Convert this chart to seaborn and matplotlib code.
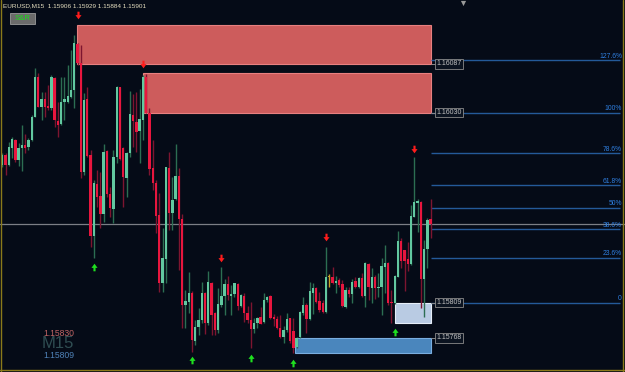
import numpy as np
import pandas as pd
import seaborn as sns
import matplotlib
matplotlib.use("Agg")
import matplotlib.pyplot as plt
from matplotlib.path import Path
from matplotlib.patches import Rectangle

# ---------------- data (EURUSD M15, prices in 1e-5 points) ----------------
opens = [115969,115981,115969,115989,115998,115975,115989,115992,115990,115998,
         116025,116071,116037,116046,116038,116035,116070,116020,116017,116042,
         116042,116048,116056,116110,116088,115961,116046,115981,115886,115947,
         115933,115912,115985,115935,115918,115978,116060,115989,115954,115983,
         116027,116019,116009,116021,116071,116030,115966,115948,115911,115832,
         115860,115966,115913,115929,115956,115906,115806,115810,115820,115764,
         115781,115789,115820,115785,115832,115797,115777,115806,115817,115831,
         115817,115819,115831,115805,115817,115797,115789,115778,115785,115792,
         115786,115812,115817,115792,115790,115779,115769,115777,115791,115776,
         115757,115769,115797,115806,115790,115820,115826,115811,115808,115798,
         115839,115839,115832,115835,115831,115804,115824,115819,115834,115827,
         115838,115817,115854,115826,115839,115826,115827,115850,115855,115810,
         115808,115839,115881,115870,115860,115854,115909,115925,115926,115836,
         115871,115906]
highs = [115983,115983,115996,116002,115999,115995,116016,116005,116000,116027,
         116082,116076,116054,116054,116062,116074,116071,116042,116071,116071,
         116085,116103,116120,116111,116109,116053,116060,115986,115952,115963,
         115961,115993,115986,115943,115986,116061,116060,115990,115984,116055,
         116052,116054,116058,116074,116075,116035,115998,115952,115936,115896,
         115967,115984,115955,115993,115966,115912,115824,115845,115822,115789,
         115803,115833,115821,115846,115833,115798,115826,115850,115836,115840,
         115829,115832,115832,115819,115820,115805,115810,115791,115792,115804,
         115820,115817,115818,115796,115793,115795,115782,115797,115791,115791,
         115769,115799,115815,115808,115833,115832,115827,115821,115812,115874,
         115842,115850,115840,115838,115835,115827,115827,115836,115839,115839,
         115843,115856,115855,115849,115841,115843,115861,115876,115856,115824,
         115841,115892,115884,115870,115879,115922,115978,115929,115927,115882,
         115907,115929]
lows = [115967,115957,115968,115977,115973,115968,115962,115983,115986,115997,
        116025,116037,116021,116025,116033,116033,116013,116002,116016,116021,
        116041,116047,116035,116085,115954,115957,115978,115874,115861,115920,
        115896,115903,115932,115909,115902,115971,115975,115920,115932,115978,
        115990,115984,115971,115998,116030,115957,115940,115890,115821,115821,
        115832,115893,115893,115928,115847,115779,115779,115797,115751,115760,
        115771,115785,115772,115783,115771,115771,115774,115804,115795,115812,
        115795,115815,115800,115804,115786,115785,115756,115774,115779,115784,
        115785,115810,115790,115782,115778,115768,115762,115775,115762,115750,
        115756,115768,115795,115774,115789,115796,115808,115798,115797,115797,
        115827,115831,115820,115827,115804,115803,115815,115808,115826,115826,
        115815,115804,115812,115808,115813,115815,115795,115820,115806,115785,
        115807,115839,115849,115822,115846,115853,115909,115891,115803,115792,
        115849,115884]
closes = [115981,115969,115990,115999,115975,115989,115992,115989,115998,116025,
          116071,116037,116046,116037,116035,116071,116021,116016,116042,116046,
          116049,116056,116111,116088,115961,116045,115980,115886,115948,115932,
          115912,115984,115935,115919,115978,116060,115976,115955,115983,116028,
          116020,116007,116023,116071,116030,115964,115948,115910,115832,115861,
          115967,115913,115928,115956,115906,115806,115811,115820,115765,115781,
          115789,115820,115785,115833,115795,115777,115807,115817,115831,115818,
          115819,115832,115805,115818,115797,115789,115778,115785,115791,115784,
          115812,115815,115791,115790,115779,115769,115777,115790,115764,115756,
          115768,115798,115806,115790,115822,115826,115810,115800,115798,115839,
          115839,115832,115834,115829,115805,115824,115819,115833,115827,115838,
          115817,115855,115827,115839,115826,115827,115852,115855,115808,115808,
          115840,115881,115857,115857,115854,115910,115926,115927,115836,115871,
          115905,115901]

# fractal arrows: candle index and price
up_fractal_idx = [23, 43, 67, 99, 126]
up_fractal_price = [1.16143, 1.16087, 1.15861, 1.15885, 1.15988]
down_fractal_idx = [28, 58, 76, 89, 120]
down_fractal_price = [1.15850, 1.15742, 1.15745, 1.15739, 1.15775]

# supply / demand zones: start index, end index, top, bottom, label
zone_start = [22.8, 43.0, 120.0, 89.5]
zone_end = [131.1, 131.1, 131.1, 131.1]
zone_top = [1.16132, 1.16076, 1.15809, 1.15768]
zone_bottom = [1.16087, 1.16030, 1.15785, 1.15750]
zone_labels = ["1.16087", "1.16030", "1.15809", "1.15768"]
zone_label_price = [1.16087, 1.16030, 1.15809, 1.15768]
zone_colors = ["#cd5c5c", "#cd5c5c", "#b9cbe3", "#4a86bd"]

# fibonacci
fib_zero = 1.15809
fib_hundred = 1.16030
fib_pcts = [127.6, 100, 78.6, 61.8, 50, 38.6, 23.6, 0]
fib_texts = ["127.6%", "100%", "78.6%", "61.8%", "50%", "38.6%", "23.6%", "0"]

current_price = 1.15901
header = "EURUSD,M15  1.15906 1.15929 1.15884 1.15901"

# ---------------- figure ----------------
sns.set_theme(style="dark")
BG = "#050b17"
fig = plt.figure(figsize=(6.25, 3.72), dpi=100, facecolor=BG)
ax = fig.add_axes([0, 0, 1, 1])
ax.set_facecolor(BG)
for s in ax.spines.values():
    s.set_visible(False)
ax.set_xticks([]); ax.set_yticks([])
ax.grid(False)

X0, DX = 2.3, 3.27
PTOP, PPX = 1.16161, 0.000011633
def px_x(px):
    return (px - X0) / DX
ax.set_xlim(px_x(0), px_x(625))
ax.set_ylim(PTOP - 372 * PPX, PTOP)

df = pd.DataFrame({"o": np.array(opens) / 1e5, "h": np.array(highs) / 1e5,
                   "l": np.array(lows) / 1e5, "c": np.array(closes) / 1e5})
df["i"] = np.arange(len(df))

# current price line
ax.axhline(current_price, color="#7c7f86", lw=0.9, zorder=1)

# zones
for xs, xe, t, b, col in zip(zone_start, zone_end, zone_top, zone_bottom, zone_colors):
    ec = "#e88080" if col == "#cd5c5c" else ("#e6eef8" if col == "#b9cbe3" else "#7aaee0")
    ax.add_patch(Rectangle((xs, b), xe - xs, t - b, facecolor=col, edgecolor=ec,
                           lw=0.8, zorder=2))

# candles
green_b, red_b, gold = "#62c8a0", "#e8163e", "#c9a227"
green_w, red_w = "#2c6e52", "#7d1530"
cols_b, cols_w = [], []
for o, c in zip(df.o, df.c):
    if c > o:
        cols_b.append(green_b); cols_w.append(green_w)
    elif c < o:
        cols_b.append(red_b); cols_w.append(red_w)
    else:
        cols_b.append(gold); cols_w.append(gold)
ax.vlines(df.i, df.l, df.h, colors=cols_w, lw=1.0, zorder=3)
bh = np.maximum((df.c - df.o).abs(), 0.000012)
ax.bar(df.i, bh, bottom=np.minimum(df.o, df.c), width=0.72, color=cols_b,
       linewidth=0, zorder=4)

# fib lines
fib_x0, fib_x1 = px_x(431), px_x(620)
for p, t in zip(fib_pcts, fib_texts):
    lvl = fib_zero + p / 100 * (fib_hundred - fib_zero)
    ax.hlines(lvl, fib_x0, fib_x1, color="#245a99", lw=1.0, zorder=2)
    ax.text(px_x(622), lvl + 0.5 * PPX, t, color="#2f7fe0", fontsize=4.9,
            ha="right", va="bottom", family="Liberation Sans", zorder=6)

# price labels of zones
for lab, pr in zip(zone_labels, zone_label_price):
    ax.hlines(pr, px_x(431), px_x(436), color="#8a8a8a", lw=0.7, zorder=5)
    ax.text(px_x(436.5), pr, lab, color="#c0c0c0", fontsize=5.0, ha="left",
            va="center", family="Liberation Sans", zorder=7,
            bbox=dict(boxstyle="square,pad=0.2", fc="#0b1320", ec="#8a8a8a", lw=0.6))

# arrows (fractals)
down_arrow = Path([(-0.28, 1), (0.28, 1), (0.28, 0.1), (0.8, 0.1), (0, -1),
                   (-0.8, 0.1), (-0.28, 0.1), (-0.28, 1)], closed=True)
up_arrow = Path([(-0.28, -1), (0.28, -1), (0.28, -0.1), (0.8, -0.1), (0, 1),
                 (-0.8, -0.1), (-0.28, -0.1), (-0.28, -1)], closed=True)
sns.scatterplot(x=up_fractal_idx, y=up_fractal_price, marker=down_arrow, s=30,
                color="#ff1c1c", linewidth=0, ax=ax, zorder=8, legend=False)
sns.scatterplot(x=down_fractal_idx, y=down_fractal_price, marker=up_arrow, s=30,
                color="#1fe01f", linewidth=0, ax=ax, zorder=8, legend=False)

# frame lines (yellow border)
ax.axvline(px_x(1), color="#8a7a1a", lw=1.0, zorder=9)
ax.axvline(px_x(623.5), color="#8a7a1a", lw=1.0, zorder=9)
ax.axhline(PTOP - 369.5 * PPX, color="#8a7a1a", lw=1.0, zorder=9)

T = ax.transAxes
def fx(px): return px / 625
def fy(py): return 1 - py / 372

# header
ax.text(fx(3), fy(6), header, transform=T, color="#e6dfc0", fontsize=4.6,
        family="Liberation Sans", ha="left", va="center", zorder=10)
# S&R button
ax.add_patch(Rectangle((fx(10), fy(24)), fx(25), 11 / 372, transform=T,
                       facecolor="#6b6b6b", edgecolor="#9a9a9a", lw=0.6, zorder=10))
ax.text(fx(22.5), fy(18.5), "S&R", transform=T, color="#18e018", fontsize=5.6,
        family="Liberation Sans", ha="center", va="center", zorder=11)
# shift marker triangle
ax.scatter([fx(463)], [fy(3)], transform=T, marker="v", s=14, color="#9a9a9a",
           linewidths=0, zorder=10)

# watermark bottom-left
ax.text(fx(42), fy(344), "M15", transform=T, color="#2f4d52", fontsize=12,
        family="Liberation Sans", ha="left", va="center", zorder=1)
ax.text(fx(43), fy(333), "1.15830", transform=T, color="#c06464", fontsize=6.2,
        family="Liberation Sans", ha="left", va="center", zorder=10)
ax.text(fx(43), fy(356), "1.15809", transform=T, color="#4f82b8", fontsize=6.2,
        family="Liberation Sans", ha="left", va="center", zorder=10)

fig.savefig("out.png", dpi=100, facecolor=BG)
